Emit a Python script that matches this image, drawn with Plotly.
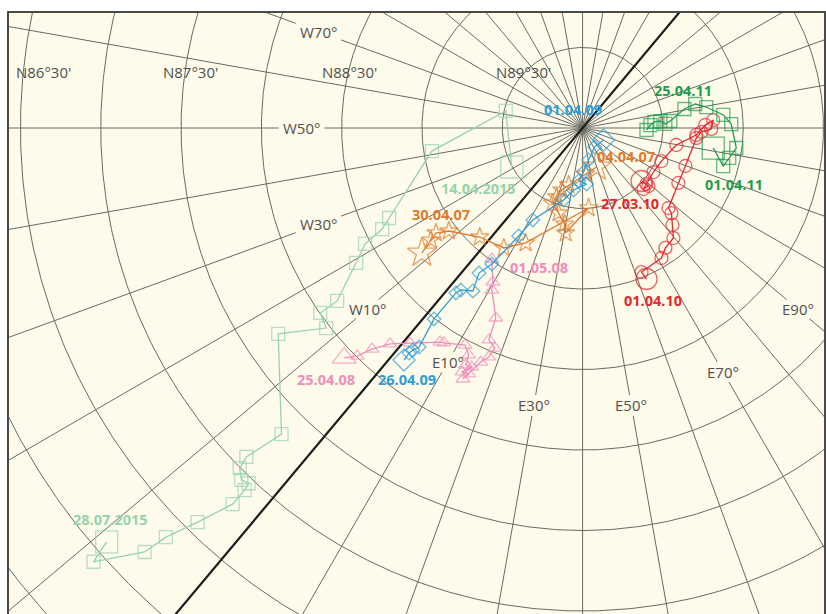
import numpy as np
import plotly.graph_objects as go

# ---------------- data (latitude / longitude of drift positions) ----------------
g15_lat = [89.497, 89.510, 89.051, 88.672, 88.603, 88.466, 88.360, 88.132, 88.003, 87.977, 87.714,
           87.330, 87.075, 86.996, 86.952, 86.968, 86.920, 86.805, 86.574, 86.368, 86.209, 85.934, 86.077]
g15_lon = [-21.2, -62.5, -41.3, -25.1, -23.3, -22.0, -19.3, -14.9, -14.9, -12.1, -16.0,
           -4.6, -5.7, -5.3, -4.2, -3.3, -3.1, -3.0, -4.4, -5.6, -6.0, -8.5, -9.05]

b09_lat = [89.850, 89.860, 89.798, 89.727, 89.670, 89.651, 89.611, 89.537, 89.350, 89.220,
           88.984, 88.892, 88.779, 88.740, 88.707, 88.496, 88.301, 88.263, 88.233, 88.180]
b09_lon = [100.3, 72.3, 50.6, 41.3, 35.7, 44.1, 31.7, 25.2, 11.5, 9.35,
           6.2, 4.4, 6.0, 3.0, 2.4, 2.05, 3.2, 2.55, 2.3, 2.35]

o07_lat = [89.743, 89.714, 89.635, 89.593, 89.542, 89.498, 89.451, 89.393, 89.339, 89.502,
           89.203, 89.108, 89.068, 88.950, 88.878, 88.827, 88.734]
o07_lon = [59.75, 43.7, 26.2, 21.3, 19.4, 18.2, 24.2, 29.4, 30.8, 44.3,
           13.6, 6.65, -3.4, -12.45, -14.46, -13.6, -12.2]

p08_lat = [87.940, 88.006, 88.102, 88.201, 88.286, 88.401, 88.410, 88.466, 88.422, 88.358, 88.363,
           88.309, 88.316, 88.272, 88.414, 88.463, 88.528, 88.560, 88.702, 88.846, 88.892, 89.009]
p08_lon = [-6.1, -4.74, -3.67, -1.8, 1.2, 6.25, 7.1, 11.5, 13.3, 13.7, 15.1,
           13.6, 15.1, 14.45, 16.45, 17.7, 18.2, 16.1, 15.4, 10.7, 9.7, 5.2]

r10_lat = [89.507, 89.454, 89.464, 89.472, 89.481, 89.468, 89.407, 89.291, 89.236, 89.185, 89.199, 89.260,
           89.289, 89.318, 89.313, 89.270, 89.235, 89.178, 89.113, 89.094, 89.055, 89.033, 88.981]
r10_lon = [88.1, 88.7, 85.0, 88.8, 98.2, 107.3, 119.75, 126.5, 131.4, 133.5, 129.6, 128.1,
           125.0, 109.75, 100.2, 87.1, 86.3, 82.9, 79.6, 74.7, 71.3, 62.3, 63.0]

g11_lat = [89.177, 89.093, 89.068, 89.035, 89.074, 89.120, 89.219, 89.283, 89.355, 89.452,
           89.484, 89.514, 89.551, 89.577, 89.602]
g11_lon = [121.3, 114.9, 118.5, 122.6, 131.5, 135.3, 139.6, 142.0, 140.55, 134.55,
           132.8, 135.1, 134.8, 132.5, 128.2]

# graticule
grid_lats = [89.5, 89.0, 88.5, 88.0, 87.5, 87.0, 86.5, 86.0, 85.5, 85.0]
grid_lons = list(range(-180, 180, 10))
lat_label_text = ["N86°30'", "N87°30'", "N88°30'", "N89°30'"]
lat_label_lats = [86.5, 87.5, 88.5, 89.5]
mer_label_text = ["W70°", "W50°", "W30°", "W10°", "E10°", "E30°", "E50°", "E70°", "E90°"]
mer_label_lons = [-70, -50, -30, -10, 10, 30, 50, 70, 90]
mer_label_lats = [88.25, 88.25, 88.25, 88.25, 88.32, 88.25, 88.25, 88.25, 88.25]

# ---------------- projection (azimuthal, north pole) ----------------
ROT = 230.0   # screen angle of the Greenwich meridian
PX_PER_DEG = 161.0


def proj(lat, lon):
    c = 90.0 - np.asarray(lat, float)
    t = np.radians(np.asarray(lon, float) + ROT)
    return c * np.cos(t), c * np.sin(t)


BG = "#fefbea"
GRID = "#6a6a64"
TXT = "#505050"

fig = go.Figure()

# latitude circles
gx, gy = [], []
ang = np.linspace(-180, 180, 721)
for la in grid_lats:
    x, y = proj(np.full_like(ang, la), ang)
    gx += list(x) + [None]
    gy += list(y) + [None]

# meridians with a gap where a label sits
lab_w, lab_h = 40.0, 15.0
lab_map = dict(zip(mer_label_lons, mer_label_lats))
for lo in grid_lons:
    if lo in (0, -180):
        continue
    if lo in lab_map:
        phi = np.radians(lo + ROT)
        cands = []
        if abs(np.cos(phi)) > 1e-6:
            cands.append(lab_w / abs(np.cos(phi)))
        if abs(np.sin(phi)) > 1e-6:
            cands.append(lab_h / abs(np.sin(phi)))
        half = (min(cands) / 2 + 3) / PX_PER_DEG
        cl = 90 - lab_map[lo]
        segs = [(0, cl - half), (cl + half, 6)]
    else:
        segs = [(0, 6)]
    for a, b in segs:
        x, y = proj([90 - a, 90 - b], [lo, lo])
        gx += list(x) + [None]
        gy += list(y) + [None]

fig.add_trace(go.Scatter(x=gx, y=gy, mode="lines", line=dict(color=GRID, width=1.0),
                         hoverinfo="skip", showlegend=False))

# Greenwich / 180 meridian
x, y = proj([84, 90, 84], [0, 0, 180])
fig.add_trace(go.Scatter(x=x, y=y, mode="lines", line=dict(color="#1b1b1b", width=2.2),
                         hoverinfo="skip", showlegend=False))

tracks = [
    (g15_lat, g15_lon, "#96d4ab", "square-open", 13, 22, (True, True)),
    (o07_lat, o07_lon, "#de7a2c", "star-open", 14, 22, (True, True)),
    (p08_lat, p08_lon, "#ef8dbb", "triangle-up-open", 12, 21, (True, False)),
    (b09_lat, b09_lon, "#2b9ed9", "diamond-open", 10.5, 17, (True, True)),
    (r10_lat, r10_lon, "#e5262e", "circle-open", 13, 21, (True, True)),
    (g11_lat, g11_lon, "#1f9d4f", "square-open", 13, 22, (True, False)),
]
for lat, lon, col, sym, s, sb, bigs in tracks:
    x, y = proj(lat, lon)
    sizes = [s] * len(lat)
    if bigs[0]:
        sizes[0] = sb
    if bigs[1]:
        sizes[-1] = sb
    fig.add_trace(go.Scatter(x=x, y=y, mode="lines+markers",
                             line=dict(color=col, width=1.3),
                             marker=dict(symbol=sym, size=sizes, color=col,
                                         line=dict(color=col, width=1.3)),
                             hoverinfo="skip", showlegend=False))

ann = []
# track labels: (text, lat, lon, color, dx, dy)
track_labels = [
    ("14.04.2015", g15_lat[0], g15_lon[0], "#96d4ab", -33, -21),
    ("28.07.2015", g15_lat[-1], g15_lon[-1], "#96d4ab", 4, 22),
    ("01.04.09", b09_lat[0], b09_lon[0], "#2b9ed9", -31, 30),
    ("26.04.09", b09_lat[-1], b09_lon[-1], "#2b9ed9", 3, -19),
    ("04.04.07", o07_lat[0], o07_lon[0], "#de7a2c", 29, 10),
    ("30.04.07", o07_lat[-1], o07_lon[-1], "#de7a2c", 19, 38),
    ("01.05.08", p08_lat[-1], p08_lon[-1], "#ef8dbb", 47, -8),
    ("25.04.08", p08_lat[0], p08_lon[0], "#ef8dbb", -18, -22),
    ("27.03.10", r10_lat[0], r10_lon[0], "#e5262e", -12, -22),
    ("01.04.10", r10_lat[-1], r10_lon[-1], "#e5262e", 6, -21),
    ("25.04.11", g11_lat[-1], g11_lon[-1], "#1f9d4f", 37, 40),
    ("01.04.11", g11_lat[0], g11_lon[0], "#1f9d4f", 21, -36),
]
for t, la, lo, col, dx, dy in track_labels:
    x, y = proj([la], [lo])
    ann.append(dict(x=float(x[0]), y=float(y[0]), text="<b>%s</b>" % t, showarrow=False,
                    xshift=dx, yshift=dy, font=dict(family="Open Sans", size=14.5, color=col)))

# meridian labels
for t, lo, la in zip(mer_label_text, mer_label_lons, mer_label_lats):
    x, y = proj([la], [lo])
    ann.append(dict(x=float(x[0]), y=float(y[0]), text=t, showarrow=False,
                    font=dict(family="Open Sans", size=15, color=TXT)))

# latitude labels on one row
row_y = 0.35
lat_shift = [20, 5, 1, -2]
for t, la, sh in zip(lat_label_text, lat_label_lats, lat_shift):
    c = 90 - la
    ann.append(dict(x=-np.sqrt(c * c - row_y * row_y), y=row_y, text=t, showarrow=False,
                    xshift=sh, font=dict(family="Open Sans", size=15, color=TXT)))

W, H = 826, 614
L, T = 9, 13
pole_px = (584, 128)
xr = [(L - pole_px[0]) / PX_PER_DEG, (W - pole_px[0]) / PX_PER_DEG]
yr = [(pole_px[1] - H) / PX_PER_DEG, (pole_px[1] - T) / PX_PER_DEG]

ax = dict(showgrid=False, zeroline=False, showticklabels=False, ticks="",
          showline=True, mirror=True, linecolor="#4a4a4a", linewidth=1.5, fixedrange=True)
fig.update_layout(
    width=W, height=H,
    margin=dict(l=L, r=0, t=T, b=0),
    paper_bgcolor="white", plot_bgcolor=BG,
    xaxis=dict(range=xr, **ax),
    yaxis=dict(range=yr, **ax),
    annotations=ann,
    showlegend=False,
)
fig.write_html("out.html")
